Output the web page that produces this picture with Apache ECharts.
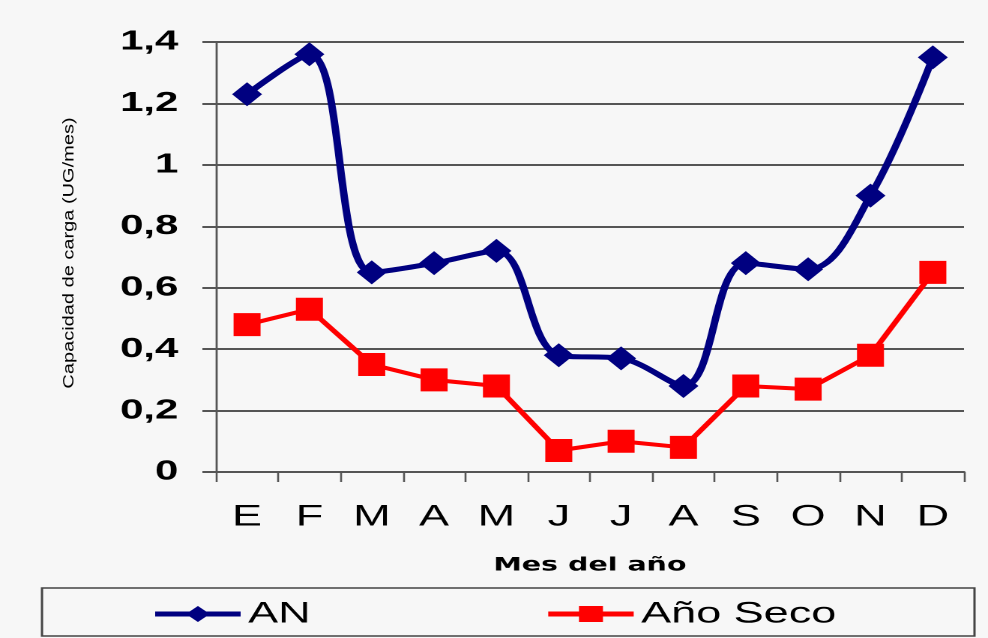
<!DOCTYPE html>
<html>
<head>
<meta charset="utf-8">
<script src="https://cdn.jsdelivr.net/npm/echarts@6/dist/echarts.min.js"></script>
<style>
  html, body { margin: 0; padding: 0; background: #f7f7f7; overflow: hidden; }
  /* el gráfico original está estirado en horizontal (~1.5x) */
  #chart {
    width: 659px;
    height: 638px;
    transform: scaleX(1.4992);
    transform-origin: 0 0;
  }
</style>
</head>
<body>
<div id="chart"></div>
<script>
// meses
var months = ['E', 'F', 'M', 'A', 'M', 'J', 'J', 'A', 'S', 'O', 'N', 'D']
// capacidad de carga (UG/mes)
var anValues = [1.23, 1.36, 0.65, 0.68, 0.72, 0.38, 0.37, 0.28, 0.68, 0.66, 0.90, 1.35]
var secoValues = [0.48, 0.53, 0.35, 0.30, 0.28, 0.07, 0.10, 0.08, 0.28, 0.27, 0.38, 0.65]
var yTicks = [0, 0.2, 0.4, 0.6, 0.8, 1, 1.2, 1.4]

var font = 'Liberation Sans, Arial, sans-serif'
var myChart = echarts.init(document.getElementById('chart'), null, { devicePixelRatio: 2 })
myChart.setOption({
  backgroundColor: '#f7f7f7',
  animation: false,
  grid: {
    left: 144,
    right: 16,
    top: 42,
    bottom: 166
  },
  legend: {
    left: 96,
    top: 594,
    itemWidth: 57,
    itemHeight: 20,
    itemGap: 156,
    lineStyle: { width: 5 },
    textStyle: {
      fontFamily: font,
      fontSize: 30,
      color: '#000'
    },
    data: ['AN', 'Año Seco']
  },
  graphic: [
    {
      type: 'rect',
      shape: { x: 28, y: 588, width: 622, height: 48 },
      style: { fill: 'none', stroke: '#444', lineWidth: 1.5 },
      z: -1
    },
    {
      // nombre del eje y (comprimido)
      type: 'text',
      x: 46,
      y: 253,
      rotation: Math.PI / 2,
      scaleY: 0.5,
      style: {
        text: 'Capacidad de carga (UG/mes)',
        fontFamily: font,
        fontSize: 20,
        fill: '#000',
        align: 'center',
        verticalAlign: 'middle'
      }
    }
  ],
  xAxis: {
    type: 'category',
    data: months,
    boundaryGap: true,
    name: 'Mes del año',
    nameLocation: 'middle',
    nameGap: 84,
    nameTextStyle: {
      fontFamily: 'DejaVu Sans, sans-serif',
      fontSize: 19,
      fontWeight: 'bold',
      color: '#000'
    },
    axisLine: { lineStyle: { color: '#555', width: 2 } },
    axisTick: { show: true, length: 10, lineStyle: { color: '#555', width: 1.3 } },
    axisLabel: {
      fontFamily: font,
      fontSize: 30,
      color: '#000',
      margin: 30
    }
  },
  yAxis: {
    type: 'value',
    min: 0,
    max: 1.4,
    interval: 0.2,
    axisLine: { show: true, lineStyle: { color: '#555', width: 1.4 } },
    axisTick: { show: true, length: 9, lineStyle: { color: '#555', width: 2 } },
    splitLine: { lineStyle: { color: '#555', width: 2 } },
    axisLabel: {
      fontFamily: font,
      fontSize: 28,
      fontWeight: 'bold',
      color: '#000',
      margin: 25,
      formatter: function (value) {
        // buscar la etiqueta en yTicks y usar coma decimal
        var v = yTicks.find(function (t) { return Math.abs(t - value) < 1e-6 })
        if (v === undefined) v = value
        return String(v).replace('.', ',')
      }
    }
  },
  series: [
    {
      name: 'AN',
      type: 'line',
      data: anValues,
      smooth: 0.35,
      symbol: 'diamond',
      symbolSize: [20, 24],
      color: '#000080',
      lineStyle: { color: '#000080', width: 5 },
      itemStyle: { color: '#000080' },
      z: 3
    },
    {
      name: 'Año Seco',
      type: 'line',
      data: secoValues,
      symbol: 'rect',
      symbolSize: [18, 23],
      color: '#ff0000',
      lineStyle: { color: '#ff0000', width: 4 },
      itemStyle: { color: '#ff0000' },
      z: 2
    }
  ]
})
</script>
</body>
</html>
